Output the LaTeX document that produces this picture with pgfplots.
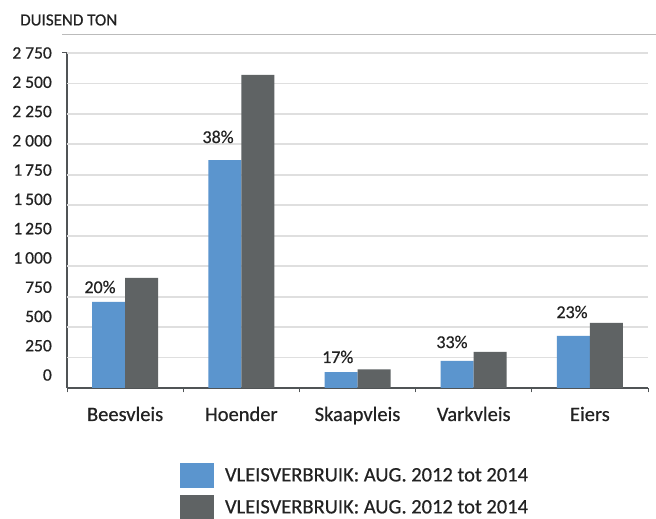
\documentclass[border=0pt]{standalone}
\usepackage{pgfplots}
\pgfplotsset{compat=1.18}
\usepackage{fontspec}
\setmainfont{Carlito}[FakeBold=0.5]
\definecolor{barblue}{HTML}{5B95CE}
\definecolor{bargray}{HTML}{5F6364}
\definecolor{gridc}{HTML}{DFDFDF}
\definecolor{axc}{HTML}{505456}
\definecolor{txt}{HTML}{222222}
\definecolor{topline}{HTML}{BBBBBB}
\begin{document}
\begin{tikzpicture}
\useasboundingbox (0,0) rectangle (656pt,519pt);
\fill[white] (0,0) rectangle (656pt,519pt);
\draw[topline, line width=0.9pt] (62pt,485pt) -- (656pt,485pt);
\node[anchor=west, inner sep=0pt, text=txt, font=\fontsize{17}{19}\selectfont] at (20pt,499pt) {DUISEND TON};
\begin{axis}[
  at={(67pt,131pt)}, anchor=south west,
  scale only axis, width=581pt, height=335pt,
  xmin=-0.5, xmax=4.5, ymin=0, ymax=2750,
  axis x line*=bottom, axis y line*=left,
  axis line style={axc, line width=1.1pt, -},
  tick align=outside,
  major tick length=0pt, minor tick length=4.5pt,
  tick style={axc, line width=1pt},
  ybar=0pt, bar width=33pt,
  xtick={0,1,2,3,4},
  xticklabels={Beesvleis,Hoender,Skaapvleis,Varkvleis,Eiers},
  minor xtick={-0.5,0.5,1.5,2.5,3.5,4.5},
  ytick={106.7,347.0,587.3,827.6,1067.9,1308.2,1548.5,1788.8,2029.1,2269.4,2509.7,2750},
  yticklabels={0,250,500,750,1\,000,1\,250,1\,500,1\,750,2 000,2 250,2 500,2 750},
  minor ytick={2750},
  extra y ticks={250,500,750,1000,1250,1500,1750,2000,2250,2500,2750},
  extra y tick labels={},
  extra y tick style={grid=major},
  major grid style={draw=gridc, line width=1.8pt},
  yticklabel style={font=\fontsize{17.5}{19}\selectfont, text=txt, anchor=east, inner sep=0pt, xshift=-15pt},
  xticklabel style={font=\fontsize{20.5}{22}\selectfont, text=txt, anchor=base, inner sep=0pt, yshift=-33pt},
  legend style={draw=none, fill=none, inner sep=0pt, outer sep=0pt,
    at={(0.19449,-0.22388)}, anchor=north west,
    font=\fontsize{20.5}{22}\selectfont, text=txt,
    nodes={inner sep=0pt}, column sep=11pt, row sep=7pt},
  legend cell align=left,
  legend image code/.code={\fill[#1] (0pt,-12.5pt) rectangle (34pt,12.5pt);},
]
\addplot[fill=barblue, draw=none] coordinates {(0,706) (1,1870) (2,131) (3,222) (4,427)};
\addplot[fill=bargray, draw=none] coordinates {(0,903) (1,2570) (2,153) (3,296) (4,534)};
\legend{VLEISVERBRUIK: AUG. 2012 tot 2014, VLEISVERBRUIK: AUG. 2012 tot 2014}
\begin{scope}[every node/.style={font=\fontsize{18}{20}\selectfont, text=txt, inner sep=0pt}]
\node at (axis cs:-0.216,829) {20\%};
\node at (axis cs:0.80,2061) {38\%};
\node at (axis cs:1.83,255) {17\%};
\node at (axis cs:2.813,378) {33\%};
\node at (axis cs:3.846,624) {23\%};
\end{scope}
\end{axis}
\end{tikzpicture}
\end{document}
